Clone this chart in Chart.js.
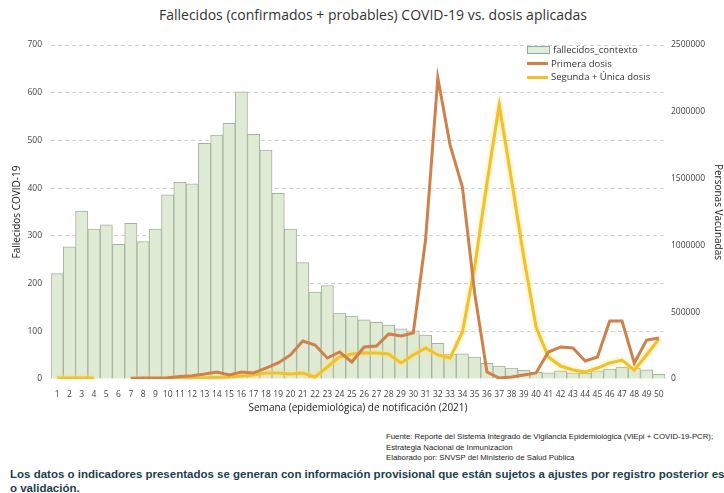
<!DOCTYPE html>
<html>
<head>
<meta charset="utf-8">
<script src="https://cdn.jsdelivr.net/npm/chart.js@4"></script>
<style>
  body { margin: 0; width: 724px; height: 493px; overflow: hidden; position: relative; background: #fff; font-family: 'Open Sans', sans-serif; }
  #chartBox { position: absolute; left: 0; top: 0; width: 724px; height: 430px; }
  #title { position: absolute; top: 5px; left: 0; width: 746px; text-align: center; font-size: 14px; color: #333; }
  #legend { position: absolute; left: 527px; top: 43px; font-size: 9.5px; color: #333; }
  #legend div { height: 13.5px; line-height: 13.5px; white-space: nowrap; }
  #legend span.key { display: inline-block; width: 21px; vertical-align: middle; margin-right: 3px; }
  #source { position: absolute; left: 386px; top: 432px; font-family: 'Liberation Sans', Arial, sans-serif; font-size: 7.8px; line-height: 10.5px; color: #222; white-space: nowrap; }
  #note { position: absolute; left: 10px; top: 467px; font-family: 'Liberation Sans', Arial, sans-serif; font-weight: bold; font-size: 11.5px; line-height: 14px; color: #1e3e4c; white-space: nowrap; }
</style>
</head>
<body>
<div id="title">Fallecidos (confirmados + probables) COVID-19 vs. dosis aplicadas</div>
<div id="chartBox"><canvas id="myChart" width="724" height="430"></canvas></div>
<div id="legend">
  <div><span class="key" style="height:6px;background:#e1edd8;border:1px solid #8fa6b8;"></span>fallecidos_contexto</div>
  <div><span class="key" style="height:3px;background:#cf814b;"></span>Primera dosis</div>
  <div><span class="key" style="height:3px;background:#f1c12c;"></span>Segunda + Única dosis</div>
</div>
<div id="source">Fuente: Reporte del Sistema Integrado de Vigilancia Epidemiológica (ViEpi + COVID-19-PCR);<br>Estrategia Nacional de Inmunización<br>Elaborado por: SNVSP del Ministerio de Salud Pública</div>
<div id="note">Los datos o indicadores presentados se generan con información provisional que están sujetos a ajustes por registro posterior es<br>o validación.</div>
<script>
'use strict';
//week labels
var semanas = ['1', '2', '3', '4', '5', '6', '7', '8', '9', '10',
  '11', '12', '13', '14', '15', '16', '17', '18', '19', '20',
  '21', '22', '23', '24', '25', '26', '27', '28', '29', '30',
  '31', '32', '33', '34', '35', '36', '37', '38', '39', '40',
  '41', '42', '43', '44', '45', '46', '47', '48', '49', '50'];

//deaths per week (left axis)
var fallecidos = [221, 277, 352, 314, 323, 282, 326, 288, 314, 386,
  412, 409, 494, 511, 536, 602, 513, 480, 389, 314,
  244, 182, 196, 138, 132, 124, 119, 113, 105, 101,
  92, 75, 52, 53, 46, 33, 27, 23, 18, 14,
  13, 17, 13, 12, 17, 21, 25, 23, 19, 10];

//vaccinated people per week (right axis)
var primeraDosis = [null, null, null, null, null, null, 5000, 7000, 7000, 10000,
  18000, 25000, 37000, 52000, 30000, 52000, 45000, 82000, 120000, 180000,
  284000, 254000, 157000, 202000, 127000, 240000, 247000, 337000, 322000, 344000,
  1040000, 2253000, 1751000, 1437000, 644000, 52000, 7000, 15000, 30000, 45000,
  202000, 240000, 232000, 135000, 165000, 434000, 434000, 120000, 292000, 307000];

var segundaDosis = [7000, 7000, 7000, 7000, null, null, 2000, 3000, 3000, 4000,
  5000, 7000, 10000, 12000, 15000, 22000, 30000, 45000, 45000, 37000,
  45000, 15000, 90000, 165000, 187000, 195000, 195000, 187000, 120000, 180000,
  232000, 180000, 157000, 352000, 838000, 1467000, 2051000, 1490000, 913000, 389000,
  165000, 97000, 67000, 52000, 82000, 120000, 142000, 67000, 180000, 300000];

//axis ticks
var leftMax = 700;
var leftStep = 100;
var rightMax = 2500000;
var rightStep = 500000;

var tickFont = { family: 'Open Sans', size: 8.5 };
var titleFont = { family: 'Open Sans', size: 10 };

//soft halo for the yellow line
var glowPlugin = {
  id: 'glow',
  beforeDatasetDraw: function(chart, args){
    if(args.index === 2){
      chart.ctx.save();
      chart.ctx.shadowColor = 'rgba(255, 225, 110, 0.9)';
      chart.ctx.shadowBlur = 4;
    }
  },
  afterDatasetDraw: function(chart, args){
    if(args.index === 2){
      chart.ctx.restore();
    }
  }
};

var ctx = document.getElementById('myChart').getContext('2d');

new Chart(ctx, {
  data: {
    labels: semanas,
    datasets: [
      {
        type: 'bar',
        label: 'fallecidos_contexto',
        data: fallecidos,
        yAxisID: 'y',
        backgroundColor: '#dfebd5',
        borderColor: '#a6b39c',
        borderWidth: 1,
        barPercentage: 1,
        categoryPercentage: 1,
        order: 3
      },
      {
        type: 'line',
        label: 'Primera dosis',
        data: primeraDosis,
        yAxisID: 'y1',
        borderColor: '#cf814b',
        borderWidth: 3,
        pointRadius: 0,
        tension: 0,
        order: 1
      },
      {
        type: 'line',
        label: 'Segunda + Única dosis',
        data: segundaDosis,
        yAxisID: 'y1',
        borderColor: '#f1c12c',
        borderWidth: 3,
        pointRadius: 0,
        tension: 0,
        order: 2
      }
    ]
  },
  options: {
    responsive: false,
    animation: false,
    layout: { padding: { top: 45, left: 0, right: 0, bottom: 0 } },
    plugins: {
      legend: { display: false },
      tooltip: { enabled: false }
    },
    scales: {
      x: {
        grid: { display: false },
        border: { display: false },
        ticks: { autoSkip: false, maxRotation: 0, font: tickFont, color: '#444', padding: 2 },
        title: { display: true, text: 'Semana (epidemiológica) de notificación (2021)', font: titleFont, color: '#222', padding: { top: 4, bottom: 16 } },
        afterFit: function(scale){ scale.height = 51; }
      },
      y: {
        position: 'left',
        min: 0,
        max: leftMax,
        ticks: { stepSize: leftStep, font: tickFont, color: '#444', padding: 9 },
        grid: {
          drawTicks: false,
          color: function(c){ return c.tick.value === 0 ? 'rgba(0,0,0,0)' : '#d2d2d2'; }
        },
        border: { display: false, dash: [4, 3] },
        title: { display: true, text: 'Fallecidos COVID-19', font: titleFont, color: '#222', padding: { top: 11 } },
        afterFit: function(scale){ scale.width = 51; }
      },
      y1: {
        position: 'right',
        min: 0,
        max: rightMax,
        grid: { display: false, drawTicks: false },
        border: { display: false },
        ticks: {
          stepSize: rightStep,
          font: tickFont,
          color: '#444',
          padding: 6,
          callback: function(v){ return String(v); }
        },
        title: { display: true, text: 'Personas Vacunadas', font: titleFont, color: '#222', padding: { top: 0 } },
        afterFit: function(scale){ scale.width = 59; }
      }
    }
  },
  plugins: [glowPlugin]
});
</script>
</body>
</html>
